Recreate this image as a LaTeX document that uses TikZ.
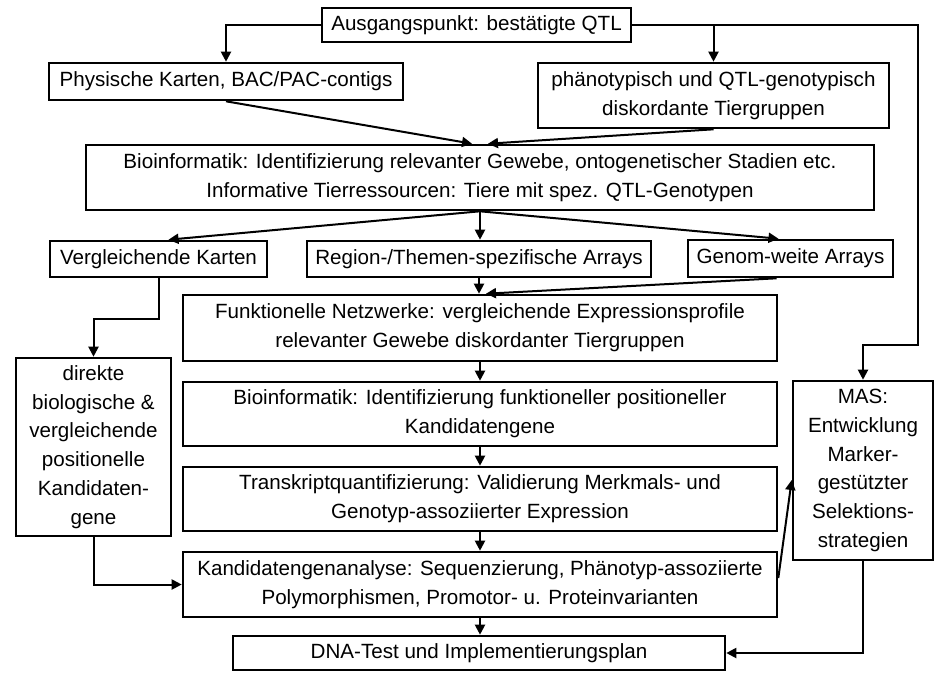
\documentclass[tikz,border=0pt]{standalone}
\usepackage{fontspec}
\setmainfont{Liberation Sans}
\usetikzlibrary{arrows.meta}
\begin{document}
\begin{tikzpicture}[x=1pt,y=-1pt,
  box/.style={draw, line width=2.6pt, align=center, inner sep=0pt,
    font=\fontsize{20.6}{28.8}\selectfont},
  arr/.style={line width=2pt, -{Triangle[length=10pt,width=10pt]}}]
\useasboundingbox[fill=white] (0,0) rectangle (936,673);

\node[box, minimum width=309pt, minimum height=34pt] (top) at (476.5,25) {Ausgangspunkt: bestätigte QTL};
\node[box, minimum width=354pt, minimum height=37pt] (phys) at (226,81.5) {Physische Karten, BAC/PAC-contigs};
\node[box, minimum width=351pt, minimum height=65pt] (phaen) at (713.5,95.5) {phänotypisch und QTL-genotypisch\\diskordante Tiergruppen};
\node[box, minimum width=788pt, minimum height=65pt] (bio1) at (480,177.5) {Bioinformatik: Identifizierung relevanter Gewebe, ontogenetischer Stadien etc.\\Informative Tierressourcen: Tiere mit spez. QTL-Genotypen};
\node[box, minimum width=217pt, minimum height=36pt] (verg) at (158.5,259) {Vergleichende Karten};
\node[box, minimum width=344pt, minimum height=36pt] (region) at (479,259) {Region-/Themen-spezifische Arrays};
\node[box, minimum width=205pt, minimum height=37pt] (genom) at (790.5,258.5) {Genom-weite Arrays};
\node[box, minimum width=594pt, minimum height=66pt] (funk) at (480,328) {Funktionelle Netzwerke: vergleichende Expressionsprofile\\relevanter Gewebe diskordanter Tiergruppen};
\node[box, minimum width=594pt, minimum height=64pt] (bio2) at (480,414) {Bioinformatik: Identifizierung funktioneller positioneller\\Kandidatengene};
\node[box, minimum width=594pt, minimum height=64pt] (trans) at (480,499) {Transkriptquantifizierung: Validierung Merkmals- und\\Genotyp-assoziierter Expression};
\node[box, minimum width=594pt, minimum height=65pt] (kand) at (480,584.5) {Kandidatengenanalyse: Sequenzierung, Phänotyp-assoziierte\\Polymorphismen, Promotor- u. Proteinvarianten};
\node[box, minimum width=492pt, minimum height=34pt] (dna) at (479,653) {DNA-Test und Implementierungsplan};
\node[box, minimum width=155pt, minimum height=178pt] (direkt) at (93.5,447) {direkte\\biologische \&\\vergleichende\\positionelle\\Kandidaten-\\gene};
\node[box, minimum width=140pt, minimum height=179pt] (mas) at (863,470.5) {MAS:\\Entwicklung\\Marker-\\gestützter\\Selektions-\\strategien};

\coordinate (c1) at (918,345);

\draw[arr] (top.west) -| (phys.north);
\draw[arr] (top.east) -| (phaen.north);
\draw[arr] (top.east) -| (c1) -| (mas.north);
\draw[arr] (phys.south) -- ([xshift=-8pt]bio1.north);
\draw[arr] (phaen.south) -- ([xshift=8pt]bio1.north);
\draw[arr] (bio1.south) -- ([xshift=10pt]verg.north);
\draw[arr] (bio1.south) -- (bio1.south |- region.north);
\draw[arr] (bio1.south) -- ([xshift=-12pt]genom.north);
\draw[arr] (verg.south) -- ++(0,41) -| (direkt.north);
\draw[arr] (region.south) -- (region.south |- funk.north);
\draw[arr] ([xshift=-14pt]genom.south) -- ([xshift=6pt]funk.north);
\draw[arr] (funk.south) -- (bio2.north);
\draw[arr] (bio2.south) -- (trans.north);
\draw[arr] (trans.south) -- (kand.north);
\draw[arr] (kand.south) -- (kand.south |- dna.north);
\draw[arr] (direkt.south) |- (kand.west);
\draw[arr] ([yshift=6.5pt]kand.east) -- ([yshift=-9.5pt]mas.west);
\draw[arr] (mas.south) |- (dna.east);
\end{tikzpicture}
\end{document}
